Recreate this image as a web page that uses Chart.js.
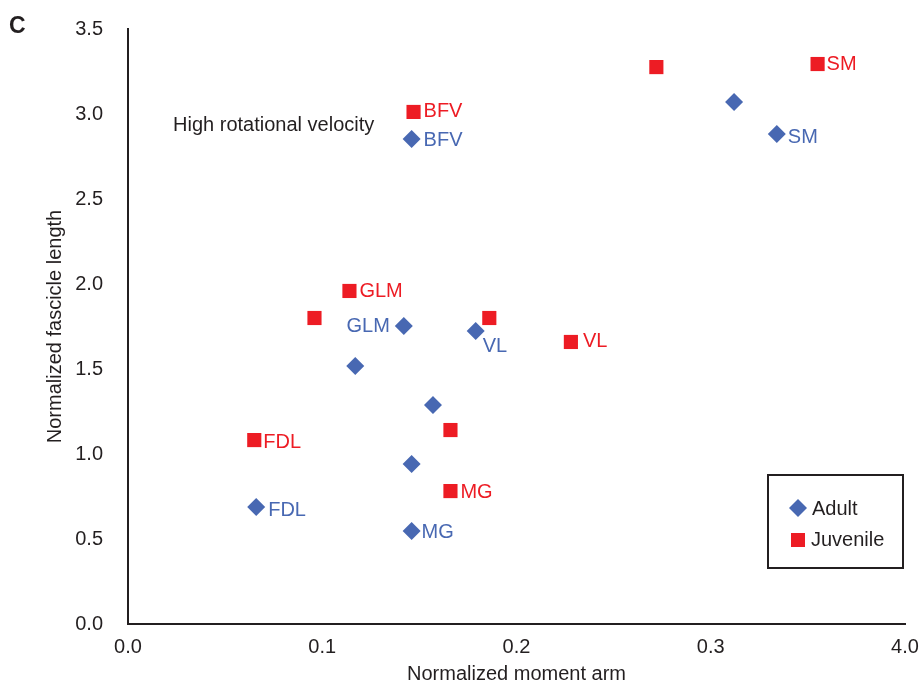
<!DOCTYPE html>
<html>
<head>
<meta charset="utf-8">
<script src="https://cdn.jsdelivr.net/npm/chart.js@4/dist/chart.umd.min.js"></script>
<style>
  html, body { margin: 0; padding: 0; background: #ffffff; }
  #wrap { width: 923px; height: 687px; }
</style>
</head>
<body>
<div id="wrap"><canvas id="chart" width="923" height="687"></canvas></div>
<script>
// Muscle architecture: normalized moment arm vs normalized fascicle length
const adultMomentArm   = [0.146, 0.312, 0.334, 0.142, 0.179, 0.117, 0.157, 0.146, 0.066, 0.146];
const adultFascicle    = [2.853, 3.071, 2.882, 1.753, 1.724, 1.518, 1.288, 0.941, 0.688, 0.547];
const adultNames       = ['BFV', '', 'SM', 'GLM', 'VL', '', '', '', 'FDL', 'MG'];

const juvenileMomentArm = [0.147, 0.272, 0.355, 0.114, 0.096, 0.186, 0.228, 0.166, 0.065, 0.166];
const juvenileFascicle  = [3.012, 3.276, 3.294, 1.959, 1.800, 1.800, 1.659, 1.141, 1.082, 0.782];
const juvenileNames     = ['BFV', '', 'SM', 'GLM', '', '', 'VL', '', 'FDL', 'MG'];

const seriesNames  = ['Adult', 'Juvenile'];
const xTickLabels  = ['0.0', '0.1', '0.2', '0.3', '4.0'];
const yTickLabels  = ['0.0', '0.5', '1.0', '1.5', '2.0', '2.5', '3.0', '3.5'];

// Styling
const BLUE = '#4868b2';
const RED = '#ed1c24';
const INK = '#231f20';
const FONT = '"Liberation Sans", Arial, Helvetica, sans-serif';

// Label placement next to each marker: [dx, dy, align]
const adultLabelOffsets = [
  [12, 1, 'left'], null, [11, 3, 'left'], [-14, 0, 'right'], [7, 16, 'left'],
  null, null, null, [12, 3, 'left'], [10, 1, 'left']
];
const juvenileLabelOffsets = [
  [10, 0, 'left'], null, [9, 0, 'left'], [10, 1, 'left'], null,
  null, [12, 0, 'left'], null, [9, 2, 'left'], [10, 1, 'left']
];

function toPoints(xs, ys) {
  return xs.map((x, i) => ({ x: x, y: ys[i] }));
}

// keep the plot frame fixed; tick labels may overhang the margins
function fixScaleBox(scale, size) {
  if (scale.isHorizontal()) scale.height = size; else scale.width = size;
  scale.paddingTop = 0;
  scale.paddingBottom = 0;
  scale.paddingLeft = 0;
  scale.paddingRight = 0;
}

const pointLabelPlugin = {
  id: 'pointLabels',
  afterDatasetsDraw(chart) {
    const ctx = chart.ctx;
    const sets = [
      { names: adultNames, offs: adultLabelOffsets, color: BLUE },
      { names: juvenileNames, offs: juvenileLabelOffsets, color: RED }
    ];
    ctx.save();
    ctx.font = '20px ' + FONT;
    ctx.textBaseline = 'middle';
    sets.forEach((s, di) => {
      const meta = chart.getDatasetMeta(di);
      meta.data.forEach((pt, i) => {
        const name = s.names[i];
        const off = s.offs[i];
        if (!name || !off) return;
        ctx.fillStyle = s.color;
        ctx.textAlign = off[2];
        ctx.fillText(name, pt.x + off[0], pt.y + off[1]);
      });
    });

    // annotation in the upper left of the plot
    const xs = chart.scales.x, ys = chart.scales.y;
    ctx.fillStyle = INK;
    ctx.textAlign = 'left';
    ctx.fillText('High rotational velocity', xs.getPixelForValue(0.0232), ys.getPixelForValue(2.935));

    // panel letter
    ctx.font = 'bold 23px ' + FONT;
    ctx.fillText('C', 9, 27);
    ctx.restore();
  }
};

function drawDiamond(ctx, x, y, r, color) {
  ctx.beginPath();
  ctx.moveTo(x, y - r);
  ctx.lineTo(x + r, y);
  ctx.lineTo(x, y + r);
  ctx.lineTo(x - r, y);
  ctx.closePath();
  ctx.fillStyle = color;
  ctx.fill();
}

function drawSquare(ctx, x, y, half, color) {
  ctx.fillStyle = color;
  ctx.fillRect(x - half, y - half, half * 2, half * 2);
}

const boxedLegendPlugin = {
  id: 'boxedLegend',
  afterDraw(chart) {
    const ctx = chart.ctx;
    const area = chart.chartArea;
    const right = area.right - 2;
    const bottom = area.bottom - 56;
    const w = 135, h = 93;
    const left = right - w, top = bottom - h;
    ctx.save();
    ctx.strokeStyle = INK;
    ctx.lineWidth = 2;
    ctx.strokeRect(left, top, w, h);

    ctx.font = '20px ' + FONT;
    ctx.textBaseline = 'middle';
    ctx.textAlign = 'left';
    drawDiamond(ctx, left + 30, top + 33, 9, BLUE);
    ctx.fillStyle = INK;
    ctx.fillText(seriesNames[0], left + 44, top + 34);
    drawSquare(ctx, left + 30, top + 65, 7, RED);
    ctx.fillStyle = INK;
    ctx.fillText(seriesNames[1], left + 43, top + 65);
    ctx.restore();
  }
};

new Chart(document.getElementById('chart'), {
  type: 'scatter',
  data: {
    datasets: [
      {
        label: seriesNames[0],
        data: toPoints(adultMomentArm, adultFascicle),
        pointStyle: 'rectRot',
        pointRadius: 9,
        pointBackgroundColor: BLUE,
        pointBorderWidth: 0,
        backgroundColor: BLUE,
        borderColor: BLUE
      },
      {
        label: seriesNames[1],
        data: toPoints(juvenileMomentArm, juvenileFascicle),
        pointStyle: 'rect',
        pointRadius: 10,
        pointBackgroundColor: RED,
        pointBorderWidth: 0,
        backgroundColor: RED,
        borderColor: RED
      }
    ]
  },
  options: {
    responsive: false,
    animation: false,
    layout: { padding: { top: 29, right: 18, left: 0, bottom: 0 } },
    plugins: {
      legend: { display: false },
      tooltip: { enabled: false }
    },
    scales: {
      x: {
        type: 'linear',
        min: 0,
        max: 0.4,
        afterFit(scale) { fixScaleBox(scale, 63); },
        afterBuildTicks(scale) {
          scale.ticks = xTickLabels.map((_, i) => ({ value: i * 0.1 }));
        },
        ticks: {
          padding: 11,
          color: INK,
          font: { family: FONT, size: 20 },
          callback: (v, i) => xTickLabels[i]
        },
        grid: { display: false, drawTicks: false },
        border: { display: true, color: INK, width: 2 },
        title: {
          display: true,
          text: 'Normalized moment arm',
          color: INK,
          font: { family: FONT, size: 20 },
          padding: { top: 0, bottom: 1 }
        }
      },
      y: {
        type: 'linear',
        min: 0,
        max: 3.5,
        afterFit(scale) { fixScaleBox(scale, 128); },
        afterBuildTicks(scale) {
          scale.ticks = yTickLabels.map(t => ({ value: parseFloat(t) }));
        },
        ticks: {
          padding: 25,
          color: INK,
          font: { family: FONT, size: 20 },
          callback: (v, i) => yTickLabels[i]
        },
        grid: { display: false, drawTicks: false },
        border: { display: true, color: INK, width: 2 },
        title: {
          display: true,
          text: 'Normalized fascicle length',
          color: INK,
          font: { family: FONT, size: 20 },
          padding: { top: 43, bottom: 0 }
        }
      }
    }
  },
  plugins: [pointLabelPlugin, boxedLegendPlugin]
});
</script>
</body>
</html>
